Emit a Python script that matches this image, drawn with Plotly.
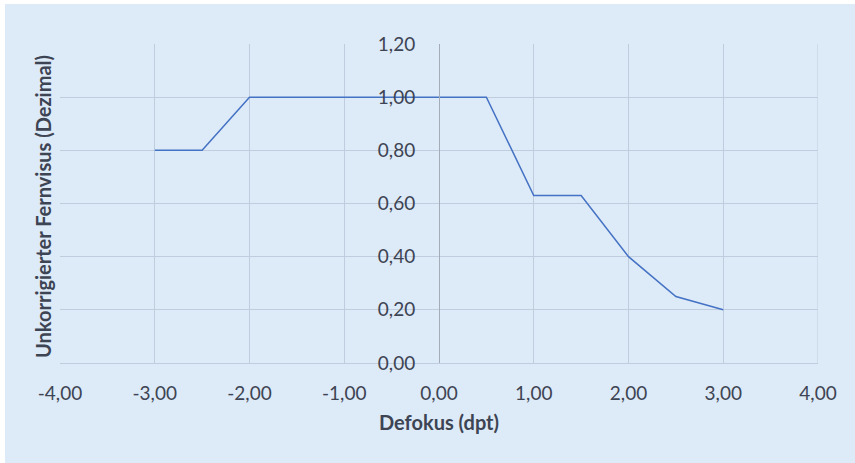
import plotly.graph_objects as go

defokus = [-3.0, -2.5, -2.0, -1.5, -1.0, -0.5, 0.0, 0.5, 1.0, 1.5, 2.0, 2.5, 3.0]
visus = [0.80, 0.80, 1.00, 1.00, 1.00, 1.00, 1.00, 1.00, 0.63, 0.63, 0.40, 0.25, 0.20]

x_ticks = [-4, -3, -2, -1, 0, 1, 2, 3, 4]
x_labels = ["-4,00", "-3,00", "-2,00", "-1,00", "0,00", "1,00", "2,00", "3,00", "4,00"]
y_ticks = [0, 0.2, 0.4, 0.6, 0.8, 1.0, 1.2]
y_labels = ["0,00", "0,20", "0,40", "0,60", "0,80", "1,00", "1,20"]

W, H = 855, 463
ML, MR, MT, MB = 60, 37, 44, 100
PW, PH = W - ML - MR, H - MT - MB

BG = "#DDEAF7"
GRID = "#C0CDDE"
TXT = "#3D4453"
FONT = "Lato"

fig = go.Figure()
fig.add_trace(go.Scatter(
    x=defokus, y=visus, mode="lines",
    line=dict(color="#4472C4", width=1.5),
    showlegend=False, hoverinfo="skip"))

def px2x(p):
    return (p - ML) / PW

def py2y(p):
    return 1 - (p - MT) / PH

# outer background panel with thin white border at top/left
fig.add_shape(type="rect", xref="paper", yref="paper",
              x0=px2x(5), x1=px2x(W + 5), y0=py2y(H + 5), y1=py2y(4),
              fillcolor=BG, line=dict(width=0), layer="below")

fig.update_layout(
    width=W, height=H,
    margin=dict(l=ML, r=MR, t=MT, b=MB),
    paper_bgcolor="white",
    plot_bgcolor="rgba(0,0,0,0)",
    font=dict(family=FONT, color=TXT, size=19),
    xaxis=dict(
        range=[-4, 4], tickvals=x_ticks, ticktext=x_labels,
        showgrid=True, gridcolor=GRID, gridwidth=1,
        zeroline=False, showline=True, linecolor=GRID, linewidth=1,
        ticks="", ticklabelstandoff=13,
        tickfont=dict(size=19, color=TXT),
        title=dict(text="<b>Defokus (dpt)</b>", font=dict(size=20, color=TXT), standoff=13),
        fixedrange=True,
    ),
    yaxis=dict(
        range=[0, 1.2], tickvals=y_ticks, ticktext=y_labels,
        anchor="free", position=0.5,
        showgrid=True, gridcolor=GRID, gridwidth=1,
        zeroline=False, showline=True, linecolor="#A3ACB8", linewidth=1,
        ticks="", ticklabelstandoff=20,
        tickfont=dict(size=19, color=TXT),
        fixedrange=True,
    ),
)

# y-axis title placed at the left edge (axis itself sits at x=0)
fig.add_annotation(
    text="<b>Unkorrigierter Fernvisus (Dezimal)</b>",
    xref="paper", yref="paper", x=px2x(43), y=py2y(207),
    showarrow=False, textangle=-90,
    font=dict(size=20, color=TXT, family=FONT),
    xanchor="center", yanchor="middle")

fig.add_shape(type="line", xref="x", yref="y", x0=4, x1=4, y0=0, y1=1.2,
              line=dict(color=GRID, width=1), layer="below")

fig.write_html("out.html", config={"displayModeBar": False},
               post_script="document.body.style.margin='0';")
